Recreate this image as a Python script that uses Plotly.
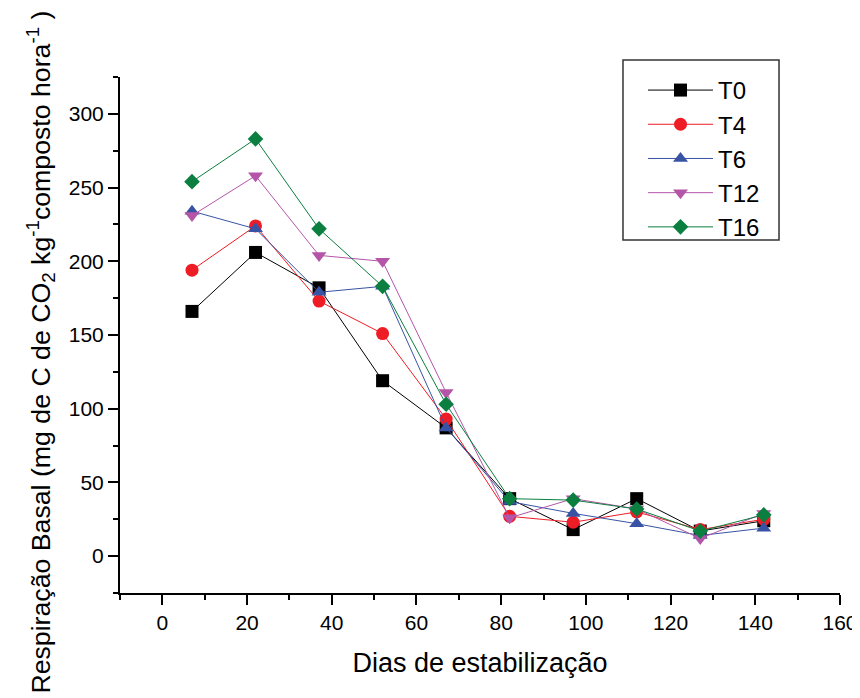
import plotly.graph_objects as go

dias = [7, 22, 37, 52, 67, 82, 97, 112, 127, 142]
T0 = [166, 206, 182, 119, 87, 39, 18, 39, 17, 24]
T4 = [194, 224, 173, 151, 93, 27, 23, 30, 18, 25]
T6 = [234, 222, 179, 183, 87, 37, 29, 22, 14, 19]
T12 = [231, 258, 204, 200, 111, 26, 39, 32, 12, 29]
T16 = [254, 283, 222, 183, 103, 39, 38, 32, 17, 28]

series = [
    ("T0", T0, "#000000", "square", 13),
    ("T4", T4, "#EE1C25", "circle", 13),
    ("T6", T6, "#3953A4", "triangle-up", 13),
    ("T12", T12, "#B455A8", "triangle-down", 13),
    ("T16", T16, "#0B7F40", "diamond", 12),
]

fig = go.Figure()
for name, vals, color, sym, size in series:
    fig.add_trace(go.Scatter(
        x=dias, y=vals, name=name, mode="lines+markers",
        line=dict(color=color, width=1),
        marker=dict(symbol=sym, size=size, color=color, line=dict(width=0)),
    ))

font = "Liberation Sans, Arial, sans-serif"
fig.update_layout(
    width=860, height=698,
    margin=dict(l=112, r=28, t=69, b=113, autoexpand=False),
    paper_bgcolor="white", plot_bgcolor="white",
    font=dict(family=font, color="black", size=21),
    showlegend=True,
    legend=dict(
        x=0.7264, y=1.0175, xanchor="left", yanchor="top",
        borderwidth=0, bgcolor="rgba(0,0,0,0)",
        font=dict(size=24, family=font, color="black"),
        itemwidth=65, tracegroupgap=0,
    ),
    shapes=[dict(type="rect", xref="paper", yref="paper",
                 x0=0.6986, x1=0.9153, y0=0.684, y1=1.033,
                 line=dict(color="#333333", width=1.5), layer="below")],
    annotations=[dict(
        text="Respiração Basal (mg de C de CO<sub>2</sub> kg<sup>-1</sup>composto hora<sup>-1</sup> )",
        xref="paper", yref="paper", x=-0.111, y=0.466, xanchor="center", yanchor="middle",
        textangle=-90, showarrow=False, font=dict(size=26.7, family=font, color="black"),
    )],
    xaxis=dict(
        range=[-10, 160], tickmode="linear", tick0=0, dtick=20,
        ticks="outside", ticklen=10, tickwidth=2, tickcolor="black",
        showline=True, linecolor="black", linewidth=2,
        showgrid=False, zeroline=False, automargin=False,
        minor=dict(ticks="outside", ticklen=5, tickwidth=2, tickcolor="black", dtick=10, tick0=0, showgrid=False),
        tickfont=dict(size=21, family=font, color="black"),
        title=dict(text="Dias de estabilização", font=dict(size=27, family=font, color="black"), standoff=20),
    ),
    yaxis=dict(
        range=[-25, 325], tickmode="linear", tick0=0, dtick=50,
        ticks="outside", ticklen=10, tickwidth=2, tickcolor="black",
        showline=True, linecolor="black", linewidth=2,
        showgrid=False, zeroline=False, automargin=False,
        minor=dict(ticks="outside", ticklen=5, tickwidth=2, tickcolor="black", dtick=25, tick0=0, showgrid=False),
        tickfont=dict(size=21, family=font, color="black"),
    ),
)

fig.write_html("out.html")
